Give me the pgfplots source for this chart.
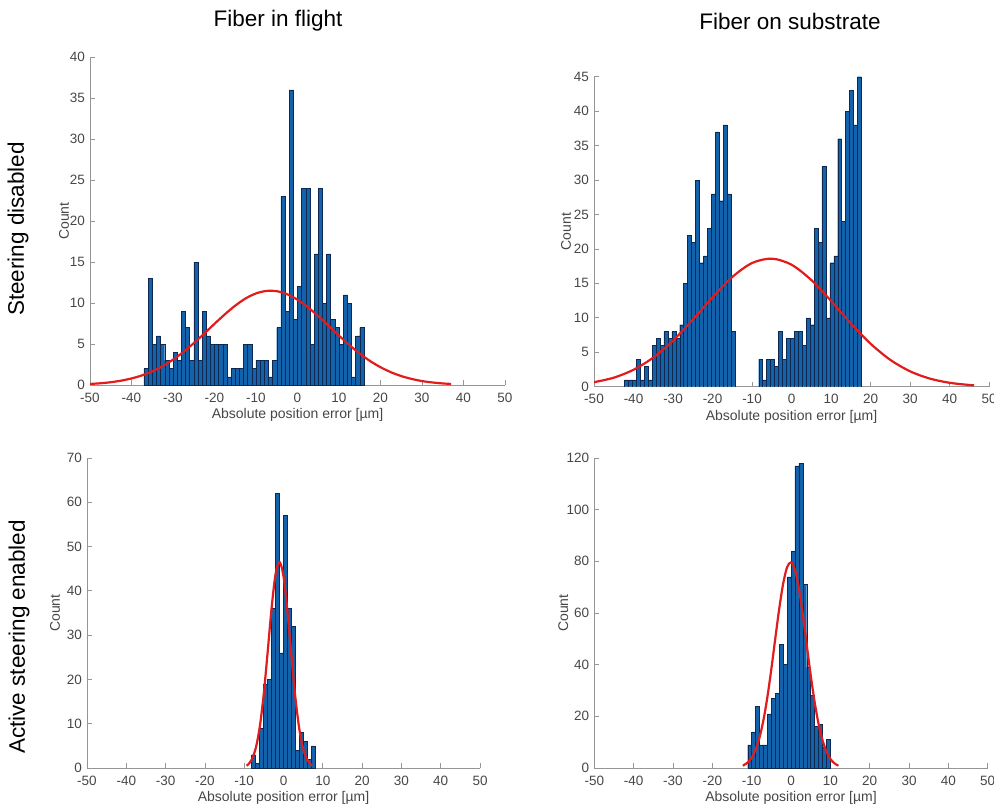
\documentclass[border=0pt]{standalone}
\usepackage{pgfplots}
\pgfplotsset{compat=1.18}
\usepackage{fontspec}
\setmainfont{Liberation Sans}
\definecolor{barblue}{RGB}{18,98,172}
\definecolor{baredge}{RGB}{15,40,80}
\definecolor{fitred}{RGB}{225,28,28}
\definecolor{axgray}{RGB}{150,150,150}
\definecolor{txtgray}{RGB}{70,70,70}
\pgfplotsset{
  hist/.style={
    scale only axis,
    axis x line*=bottom, axis y line*=left,
    axis line style={draw=axgray, line width=0.8pt, -},
    every tick/.style={draw=axgray, line width=0.8pt},
    tick align=inside,
    major tick length=5pt,
    xmin=-50, xmax=50, xtick={-50,-40,...,50},
    ymin=0,
    /pgf/number format/assume math mode=true,
    ticklabel style={font=\fontsize{13.5}{16}\selectfont, text=txtgray, inner sep=1pt},
    xticklabel style={yshift=-6.5pt},
    yticklabel style={xshift=-4pt},
    xlabel={Absolute position error [µm]},
    ylabel={Count},
    label style={font=\fontsize{14}{16}\selectfont, text=txtgray},
    xlabel style={at={(axis description cs:0.5,0)}, anchor=north, yshift=-20pt},
  },
  bars/.style={ybar interval, fill=barblue, draw=baredge, line width=0.4pt},
  fit/.style={fitred, line width=2.2pt, smooth},
}
\begin{document}
\begin{tikzpicture}
\path[use as bounding box] (0,0) rectangle (994pt,-809pt);
\node[font=\fontsize{22.5}{27}\selectfont] at (278pt,-21pt) {Fiber in flight};
\node[font=\fontsize{22.5}{27}\selectfont] at (790pt,-21pt) {Fiber on substrate};
\node[font=\fontsize{22.5}{27}\selectfont, rotate=90] at (18pt,-229pt) {Steering disabled};
\node[font=\fontsize{22.5}{27}\selectfont, rotate=90] at (19pt,-637pt) {Active steering enabled};

% Panel 1
\begin{axis}[hist, at={(90pt,-385pt)}, anchor=south west, width=415pt, height=328pt,
  ymax=40, ytick={0,5,...,40},
  ylabel style={at={(axis description cs:0,0.5)}, anchor=center, yshift=26pt}]
\addplot[bars] coordinates {(-37,2)(-36,13)(-35,5)(-34,6)(-33,5)(-32,3)(-31,2)(-30,4)(-29,3)(-28,9)(-27,7)(-26,3)(-25,15)(-24,3)(-23,9)(-22,6)(-21,5)(-20,5)(-19,5)(-18,5)(-17,1)(-16,2)(-15,2)(-14,2)(-13,5)(-12,5)(-11,2)(-10,3)(-9,3)(-8,3)(-7,1)(-6,3)(-5,7)(-4,23)(-3,9)(-2,36)(-1,8)(0,12)(1,24)(2,24)(3,5)(4,16)(5,24)(6,10)(7,16)(8,8)(9,7)(10,5)(11,11)(12,10)(13,1)(14,6)(15,7)(16,7)};
\addplot[fit] coordinates {(-50,0.13)(-47.5,0.21)(-45,0.34)(-42.5,0.53)(-40,0.80)(-37.5,1.17)(-35,1.67)(-32.5,2.30)(-30,3.09)(-27.5,4.03)(-25,5.10)(-22.5,6.26)(-20,7.46)(-17.5,8.62)(-15,9.68)(-12.5,10.56)(-10,11.17)(-7.5,11.47)(-5,11.44)(-2.5,11.07)(0,10.40)(2.5,9.49)(5,8.40)(7.5,7.22)(10,6.02)(12.5,4.87)(15,3.83)(17.5,2.92)(20,2.17)(22.5,1.56)(25,1.09)(27.5,0.74)(30,0.48)(32.5,0.31)(35,0.19)(37,0.13)};
\end{axis}

% Panel 2
\begin{axis}[hist, at={(594pt,-386.7pt)}, anchor=south west, width=395pt, height=310pt,
  ymax=45, ytick={0,5,...,45},
  ylabel style={at={(axis description cs:0,0.5)}, anchor=center, yshift=28pt}]
\addplot[bars] coordinates {(-42.3,1)(-41.3,1)(-40.3,1)(-39.3,4)(-38.3,1)(-37.3,3)(-36.3,1)(-35.3,6)(-34.3,7)(-33.3,6)(-32.3,8)(-31.3,7)(-30.3,8)(-29.3,7)(-28.3,9)(-27.3,15)(-26.3,22)(-25.3,21)(-24.3,30)(-23.3,18)(-22.3,19)(-21.3,23)(-20.3,28)(-19.3,37)(-18.3,27)(-17.3,38)(-16.3,28)(-15.3,8)(-14.3,8)};
\addplot[bars] coordinates {(-8.3,4)(-7.3,1)(-6.3,4)(-5.3,4)(-4.3,3)(-3.3,8)(-2.3,4)(-1.3,7)(-0.3,7)(0.7,8)(1.7,8)(2.7,6)(3.7,10)(4.7,9)(5.7,23)(6.7,21)(7.7,32)(8.7,10)(9.7,18)(10.7,19)(11.7,36)(12.7,24)(13.7,40)(14.7,43)(15.7,38)(16.7,45)(17.7,45)};
\addplot[fit] coordinates {(-50,0.65)(-45,1.31)(-40,2.46)(-35,4.23)(-30,6.69)(-25,9.72)(-20,12.97)(-15,15.92)(-10,17.95)(-5,18.59)(0,17.71)(5,15.49)(10,12.46)(15,9.21)(20,6.25)(25,3.90)(30,2.24)(35,1.18)(40,0.57)(45,0.25)(46.2,0.21)};
\end{axis}

% Panel 3
\begin{axis}[hist, at={(87pt,-768pt)}, anchor=south west, width=393pt, height=310pt,
  ymax=70, ytick={0,10,...,70},
  ylabel style={at={(axis description cs:0,0.5)}, anchor=center, yshift=32pt}]
\addplot[bars] coordinates {(-8.2,3)(-7.18,1)(-6.16,9)(-5.14,19)(-4.12,20)(-3.1,36)(-2.08,62)(-1.06,26)(-0.04,57)(0.98,36)(2.0,32)(3.02,4)(4.04,8)(5.06,6)(6.08,2)(7.1,5)(8.12,5)};
\addplot[fit] coordinates {(-9.4,0.51)(-9,0.78)(-8,2.05)(-7,4.71)(-6,9.53)(-5,16.95)(-4,26.5)(-3,36.4)(-2,43.9)(-1,46.5)(0,43.3)(1,35.4)(2,25.5)(3,16.1)(4,8.93)(5,4.36)(6,1.87)(7,0.75)(7.3,0.51)};
\end{axis}

% Panel 4
\begin{axis}[hist, at={(594.3pt,-768pt)}, anchor=south west, width=393.4pt, height=310pt,
  ymax=120, ytick={0,20,...,120},
  ylabel style={at={(axis description cs:0,0.5)}, anchor=center, yshift=31pt}]
\addplot[bars] coordinates {(-11,9)(-10,14)(-9,24)(-8,9)(-7,9)(-6,21)(-5,27)(-4,29)(-3,48)(-2,40)(-1,74)(0,84)(1,117)(2,118)(3,71)(4,39)(5,28)(6,16)(7,17)(8,8)(9,11)(10,11)};
\addplot[fit] coordinates {(-12.25,0.88)(-11,2.13)(-10,4.01)(-9,7.11)(-8,11.86)(-7,18.6)(-6,27.5)(-5,38.3)(-4,50.1)(-3,61.6)(-2,71.3)(-1,77.7)(0,79.6)(1,76.7)(2,69.6)(3,59.4)(4,47.7)(5,36.0)(6,25.6)(7,17.1)(8,10.8)(9,6.37)(10,3.55)(11,1.86)(12.05,0.88)};
\end{axis}
\end{tikzpicture}
\end{document}
